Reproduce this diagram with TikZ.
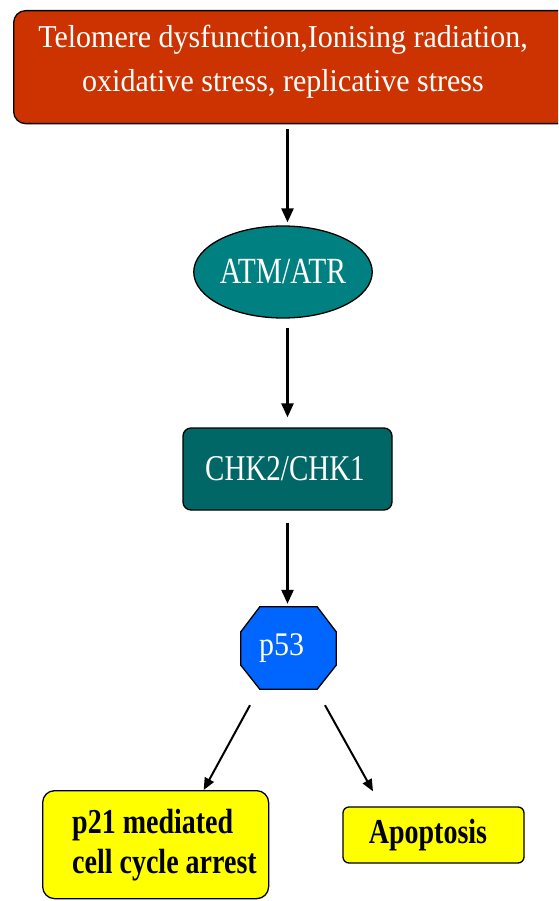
\documentclass[tikz,border=0pt]{standalone}
\usepackage{fontspec}
\usepackage{graphicx}
\setmainfont{Liberation Serif}
\usetikzlibrary{arrows.meta,shapes.geometric,backgrounds}
\definecolor{topred}{HTML}{CC3300}
\definecolor{atmteal}{HTML}{008080}
\definecolor{chkteal}{HTML}{006666}
\definecolor{pblue}{HTML}{0066FF}
\definecolor{ylw}{HTML}{FFFF00}
\newcommand\vst[1]{\scalebox{1}[1.25]{#1}}
\newcommand\vsl[1]{\scalebox{1}[1.06]{#1}}
\begin{document}
\begin{tikzpicture}[x=1pt,y=-1pt,
  arr/.style={-{Triangle[length=14pt,width=12pt]}, line width=2.6pt},
  darr/.style={-{Triangle[length=12pt,width=10pt]}, line width=2pt},
  outline/.style={draw=black, line width=1.3pt},
  wtext/.style={text=white, inner sep=0pt},
  btext/.style={text=black, inner sep=0pt, font=\fontsize{28}{40}\selectfont\bfseries}]
\clip (0,0) rectangle (558,901);
\begin{scope}[on background layer]
\fill[white] (0,0) rectangle (558,901);
\end{scope}
% top box
\node[outline, fill=topred, rounded corners=12pt, minimum width=570pt, minimum height=113pt, anchor=north west] (top) at (13,10) {};
\node[wtext, anchor=base, font=\fontsize{30}{44}\selectfont] (toptext) at (283,48)
  {\begin{tabular}[t]{@{}c@{}}\vsl{Telomere dysfunction,Ionising radiation,}\\\vsl{oxidative stress, replicative stress}\end{tabular}};
% ATM/ATR
\node[outline, fill=atmteal, ellipse, minimum width=176pt, minimum height=92pt, wtext, font=\fontsize{29.5}{34}\selectfont] (atm) at (283,272) {\vst{ATM/ATR}};
% CHK
\node[outline, fill=chkteal, rounded corners=8pt, minimum width=209pt, minimum height=82pt, wtext, font=\fontsize{29}{34}\selectfont] (chk) at (287.5,469) {\hspace*{-5pt}\vst{CHK2/CHK1}};
% p53
\node[minimum width=95pt, minimum height=82pt, wtext, font=\fontsize{30}{34}\selectfont] (p53) at (288.5,648) {\hspace*{-14pt}\raisebox{-2pt}{\scalebox{1}[1.1]{p53}}};
\begin{scope}[on background layer]
\draw[outline, fill=pblue] ([xshift=19pt]p53.north west) -- ([xshift=-19pt]p53.north east)
  -- ([yshift=-25pt]p53.north east) -- ([yshift=24pt]p53.south east)
  -- ([xshift=-19pt]p53.south east) -- ([xshift=19pt]p53.south west)
  -- ([yshift=24pt]p53.south west) -- ([yshift=-25pt]p53.north west) -- cycle;
\end{scope}
% yellow boxes
\node[outline, fill=ylw, rounded corners=12pt, minimum width=226pt, minimum height=108pt, anchor=north west] (p21) at (42,790) {};
\node[btext, anchor=base west] (p21text) at (72,833)
  {\begin{tabular}[t]{@{}l@{}}\vst{p21 mediated}\\\vst{cell cycle arrest}\end{tabular}};
\node[outline, fill=ylw, rounded corners=6pt, minimum width=181pt, minimum height=56pt, btext] (apo) at (433.5,835) {\hspace*{-11pt}\vst{Apoptosis}};
% arrows
\draw[arr, shorten <=5pt, shorten >=3pt] (top.south -| chk) -- (atm.north -| chk);
\draw[arr, shorten <=9pt, shorten >=10pt] (atm.south -| chk) -- (chk.north);
\draw[arr, shorten <=12pt, shorten >=3pt] (chk.south) -- (p53.north -| chk);
\draw[darr] ([xshift=-38.5pt,yshift=-16pt]p53.south) -- ([xshift=48pt]p21.north);
\draw[darr] ([xshift=36.5pt,yshift=-16pt]p53.south) -- ([xshift=-60.5pt,yshift=15pt]apo.north);
\end{tikzpicture}
\end{document}
